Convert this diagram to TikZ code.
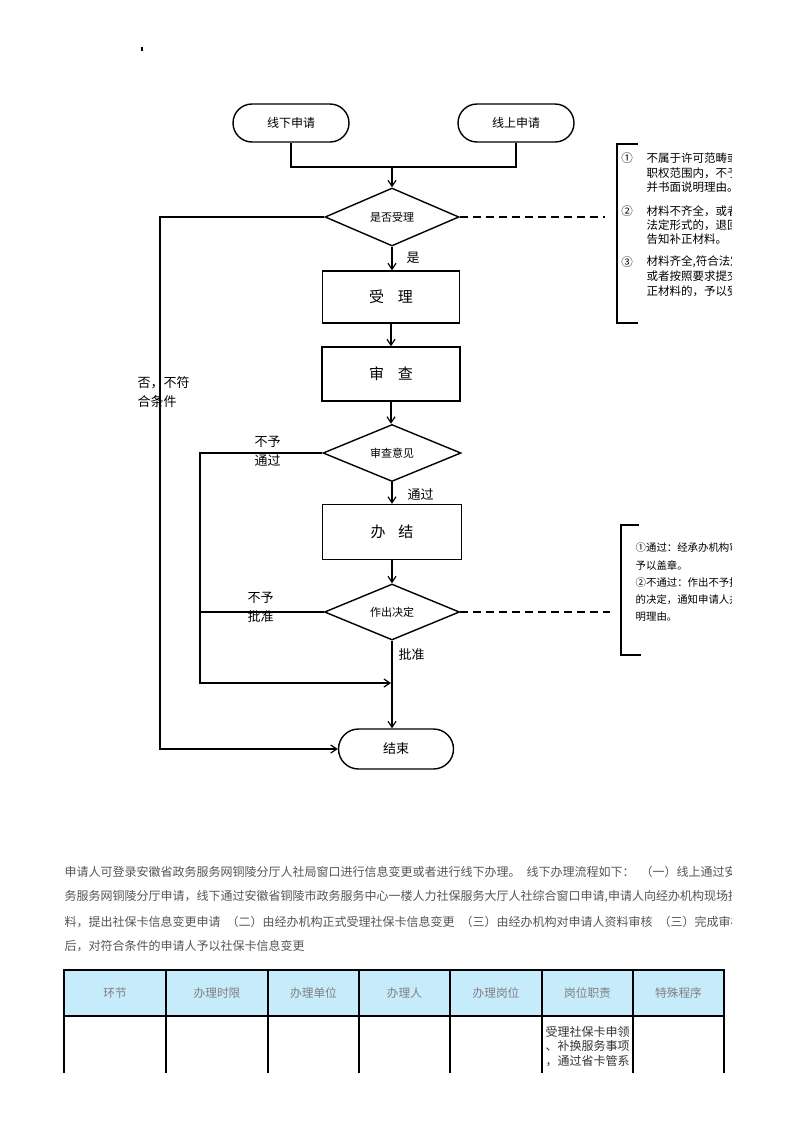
\documentclass[tikz,border=0pt]{standalone}
\usepackage{fontspec}
\newfontfamily\cjk{Noto Sans CJK SC}
\usetikzlibrary{arrows.meta,shapes.geometric}
\newcommand\fsz[2]{\fontsize{#1pt}{#2pt}\selectfont}
\definecolor{hdrblue}{RGB}{198,235,250}
\definecolor{bodygray}{RGB}{85,85,85}
\definecolor{hdrgray}{RGB}{128,128,128}
\begin{document}
\begin{tikzpicture}[x=1pt,y=-1pt,line width=1.4pt,
  every node/.style={font=\cjk},
  term/.style={draw,rounded corners=19pt,minimum width=116pt,minimum height=38pt,inner sep=0pt,font=\cjk\fsz{12}{14}},
  proc/.style={draw,minimum width=138pt,minimum height=53pt,inner sep=0pt,font=\cjk\fsz{15}{18}},
  dec/.style={draw,diamond,aspect=2.4,minimum width=136pt,minimum height=57pt,inner sep=0pt,font=\cjk\fsz{11}{13}},
  arr/.style={-{Straight Barb[length=6pt,width=8pt,line width=1.2pt]}},
  lab/.style={font=\cjk\fsz{13}{19},align=left,inner sep=0pt},
  brk/.style={font=\cjk\fsz{11.5}{14},inner sep=0pt,anchor=west},
  brkb/.style={font=\cjk\fsz{10.4}{12},inner sep=0pt,anchor=west},
  body/.style={font=\cjk\fsz{12}{14},text=bodygray,inner sep=0pt,anchor=west},
  hdr/.style={font=\cjk\fsz{11.7}{14},text=hdrgray,inner sep=0pt},
  dsh/.style={dash pattern=on 8pt off 5pt}
]
\useasboundingbox (0,0) rectangle (793,1122);
\fill[white] (0,0) rectangle (793,1122);
\fill (141,47) rectangle (143,51);

% flowchart nodes
\node[term] (off) at (291,123) {线下申请};
\node[term] (on) at (516,123) {线上申请};
\node[dec,minimum width=134pt,minimum height=58pt] (d1) at (392,217) {是否受理};
\node[proc,minimum width=137pt,minimum height=52pt] (acc) at (391,297) {受\hspace{14pt}理};
\node[proc,minimum width=138pt,minimum height=54pt] (rev) at (391,374) {审\hspace{14pt}查};
\node[dec,minimum width=138pt,minimum height=57pt] (d2) at (392,453) {审查意见};
\node[proc,minimum width=139pt,minimum height=55pt] (fin) at (392,532) {办\hspace{13pt}结};
\node[dec,minimum width=135pt,minimum height=56pt] (d3) at (392,612) {作出决定};
\node[term,minimum width=115pt,minimum height=40pt,rounded corners=20pt,font=\cjk\fsz{13}{15}] (end) at (396,749) {结束};

% connectors
\coordinate (j) at (392,167);
\draw (off.south) |- (j);
\draw (on.south) |- (j);
\draw[arr] (j) -- (d1.north);
\draw[arr] (d1.south) -- (d1.south |- acc.north);
\draw[arr] (acc.south) -- (rev.north);
\draw[arr] (rev.south) -- (rev.south |- d2.north);
\draw[arr] (d2.south) -- (d2.south |- fin.north);
\draw[arr] (fin.south) -- (d3.north);
\draw[arr] (d3.south) -- (d3.south |- end.north);

\coordinate (c1) at (160,217);
\draw[arr] (d1.west) -- (c1) |- (end.west);
\coordinate (c2) at (200,453);
\coordinate (c3) at (391,683);
\draw[arr] (d2.west) -- (c2) |- (c3);
\coordinate (c4) at (200,612);
\draw (d3.west) -- (c4);

\coordinate (b1) at (605,217);
\draw[dsh] (d1.east) -- (b1);
\coordinate (b2) at (610,612);
\draw[dsh] (d3.east) -- (b2);

% brackets
\draw (638,144) -- (617,144) -- (617,323) -- (638,323);
\draw (639,525) -- (621,525) -- (621,655) -- (641,655);

% labels
\node[lab,anchor=west] (lno) at (137,392.5) {否，不符\\合条件};
\node[lab,anchor=west] (lnp) at (254,451) {不予\\通过};
\node[lab,anchor=west] (lnb) at (247,607) {不予\\批准};
\node[lab,anchor=west] (lyes) at (406,258) {是};
\node[lab,anchor=west] (lpass) at (407,495) {通过};
\node[lab,anchor=west] (lok) at (398,655) {批准};

% bracket texts
\begin{scope}
\clip (600,130) rectangle (731,340);
\node[brk,anchor=center] (n1) at (627,158) {①};
\node[brk] (t1) at (646,158) {不属于许可范畴或者不在本机关};
\node[brk] (t2) at (646,173) {职权范围内，不予受理};
\node[brk] (t3) at (646,187.5) {并书面说明理由。};
\node[brk,anchor=center] (n2) at (627,211) {②};
\node[brk] (t4) at (646,211) {材料不齐全，或者不符合};
\node[brk] (t5) at (646,225) {法定形式的，退回并一次性};
\node[brk] (t6) at (646,239) {告知补正材料。};
\node[brk,anchor=center] (n3) at (627,262) {③};
\node[brk] (t7) at (646,262) {材料齐全,符合法定形式，};
\node[brk] (t8) at (646,276.5) {或者按照要求提交全部补};
\node[brk] (t9) at (646,291) {正材料的，予以受理。};
\end{scope}
\begin{scope}
\clip (600,520) rectangle (731,660);
\node[brkb] (u1) at (635,548) {①通过：经承办机构审核通过，};
\node[brkb] (u2) at (635,565) {予以盖章。};
\node[brkb] (u3) at (635,583) {②不通过：作出不予批准};
\node[brkb] (u4) at (635,600) {的决定，通知申请人并说};
\node[brkb] (u5) at (635,617) {明理由。};
\end{scope}

% body text
\begin{scope}
\clip (60,855) rectangle (731,960);
\node[body] (p1) at (64,872) {申请人可登录安徽省政务服务网铜陵分厅人社局窗口进行信息变更或者进行线下办理。\hspace{6pt}线下办理流程如下：\hspace{6pt}（一）线上通过安徽省政};
\node[body] (p2) at (64,897) {务服务网铜陵分厅申请，线下通过安徽省铜陵市政务服务中心一楼人力社保服务大厅人社综合窗口申请,申请人向经办机构现场提交资};
\node[body] (p3) at (64,921.5) {料，提出社保卡信息变更申请\hspace{6pt}（二）由经办机构正式受理社保卡信息变更\hspace{6pt}（三）由经办机构对申请人资料审核\hspace{6pt}（三）完成审核};
\node[body] (p4) at (64,946) {后，对符合条件的申请人予以社保卡信息变更};
\end{scope}

% table
\fill[hdrblue] (64,970) rectangle (724,1016);
\draw[line width=1.2pt] (63.4,970) -- (724.6,970);
\draw[line width=1.8pt] (63.4,1016) -- (724.6,1016);
\foreach \x in {64,166,268,359,450,542,633,724} \draw[line width=1.3pt] (\x,970) -- (\x,1073);
\node[hdr] (h1) at (115,993) {环节};
\node[hdr] (h2) at (217,993) {办理时限};
\node[hdr] (h3) at (313.5,993) {办理单位};
\node[hdr] (h4) at (404.5,993) {办理人};
\node[hdr] (h5) at (496,993) {办理岗位};
\node[hdr] (h6) at (587.5,993) {岗位职责};
\node[hdr] (h7) at (678.5,993) {特殊程序};
\node[anchor=north west,align=left,font=\cjk\fsz{12}{14.5},text=black!80,inner sep=0pt] (cell) at (545,1025.5) {受理社保卡申领\\、补换服务事项\\，通过省卡管系};
\end{tikzpicture}
\end{document}
